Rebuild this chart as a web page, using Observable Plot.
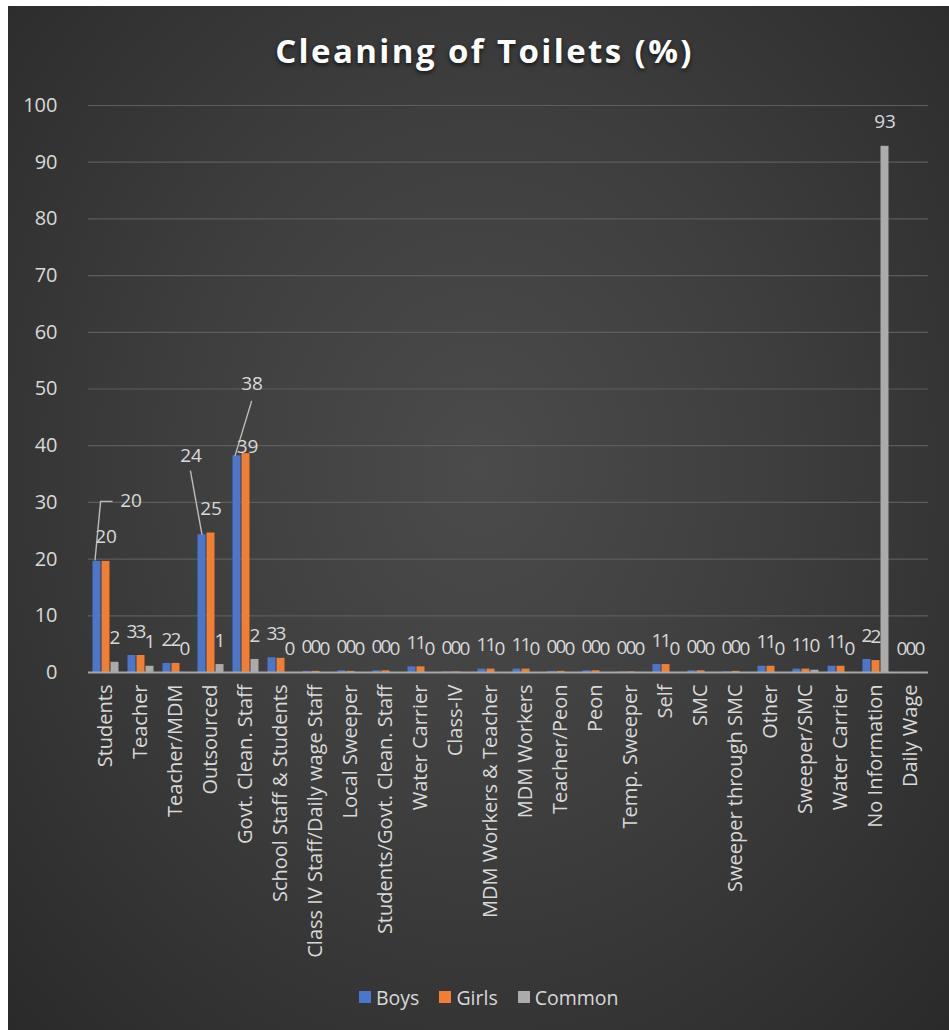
<!DOCTYPE html>
<html>
<head>
<meta charset="utf-8">
<script src="https://cdn.jsdelivr.net/npm/d3@7"></script>
<script src="https://cdn.jsdelivr.net/npm/@observablehq/plot@0.6"></script>
<style>
  body { margin: 0; background: #ffffff; }
  #chart {
    position: absolute; left: 8px; top: 6px; width: 941px; height: 1024px; overflow: hidden;
    background: radial-gradient(ellipse at 50% 45%, #4b4b4b 0%, #3e3e3e 45%, #2a2a2a 100%);
    font-family: "Open Sans", sans-serif;
  }
  #title {
    position: absolute; top: 22px; left: 0; width: 941px; padding-left: 12px; box-sizing: border-box;
    text-align: center; color: #ffffff; font-weight: 700; font-size: 33px; letter-spacing: 2.4px;
    text-shadow: 0 2px 4px rgba(0,0,0,0.7);
  }
  #plot { position: absolute; left: 0; top: 0; }
  #legend {
    position: absolute; left: 351px; top: 980px; height: 22px; display: flex; align-items: center;
    color: #d9d9d9; font-size: 19.5px;
  }
  .item { display: flex; align-items: center; margin-right: 20px; }
  .sw { width: 12px; height: 12px; margin-right: 5px; }
</style>
</head>
<body>
<div id="chart">
  <div id="title">Cleaning of Toilets (%)</div>
  <div id="plot"></div>
  <div id="legend"></div>
</div>
<script>
// ---- data ----
const categories = [
  "Students", "Teacher", "Teacher/MDM", "Outsourced", "Govt. Clean. Staff",
  "School Staff & Students", "Class IV Staff/Daily wage Staff", "Local Sweeper",
  "Students/Govt. Clean. Staff", "Water Carrier", "Class-IV", "MDM Workers & Teacher",
  "MDM Workers", "Teacher/Peon", "Peon", "Temp. Sweeper", "Self", "SMC",
  "Sweeper through SMC", "Other", "Sweeper/SMC", "Water Carrier", "No Information", "Daily Wage"
];
const boys   = [19.6, 3.0, 1.6, 24.3, 38.2, 2.6, 0.2, 0.3, 0.3, 1.0, 0.1, 0.6, 0.6, 0.2, 0.3, 0.1, 1.4, 0.3, 0.1, 1.1, 0.6, 1.1, 2.3, 0.0];
const girls  = [19.6, 3.0, 1.6, 24.6, 38.6, 2.5, 0.2, 0.2, 0.3, 1.0, 0.1, 0.6, 0.6, 0.2, 0.3, 0.1, 1.4, 0.3, 0.2, 1.1, 0.6, 1.1, 2.1, 0.0];
const common = [1.8, 1.1, 0.0, 1.4, 2.3, 0.0, 0.0, 0.0, 0.0, 0.0, 0.0, 0.0, 0.0, 0.0, 0.0, 0.0, 0.0, 0.0, 0.0, 0.0, 0.4, 0.0, 92.8, 0.0];
const seriesNames = ["Boys", "Girls", "Common"];
const yTicks = [0, 10, 20, 30, 40, 50, 60, 70, 80, 90, 100];

// ---- style ----
const seriesColors = ["#4a77cc", "#f07e33", "#ababab"];
const textColor = "#d9d9d9";
// data labels that were dragged away from their bar (pixel offsets from bar top), with leader lines
const labelNudges = [
  {cat: 0, series: "Boys", dx: 34, dy: -60, leader: [[-2, -1], [3.6, -60], [15.6, -60]]},
  {cat: 3, series: "Boys", dx: -11, dy: -79, leader: [[0, 0], [-11.6, -64]]},
  {cat: 4, series: "Boys", dx: 15, dy: -72, leader: [[-2, 0], [14.7, -55]]},
  {cat: 4, series: "Girls", dx: 1.5, dy: -7, leader: null}
];

const seriesValues = [boys, girls, common];
const rows = categories.flatMap((c, i) =>
  seriesNames.map((s, k) => ({cat: i, series: s, value: seriesValues[k][i]})));
const fmt = d3.format(".0f");
const isNudged = d => labelNudges.some(n => n.cat === d.cat && n.series === d.series);

const nudgeMarks = labelNudges.flatMap(n => {
  const sel = rows.filter(d => d.cat === n.cat && d.series === n.series);
  const m = [Plot.text(sel, {fx: "cat", x: "series", y: "value", text: d => fmt(d.value),
    dx: n.dx, dy: n.dy, fill: textColor, fontSize: 19})];
  if (n.leader) {
    const pts = n.leader;
    m.push(Plot.dot(sel, {fx: "cat", x: "series", y: "value", r: 4, fill: "none",
      stroke: "#bdbdbd", strokeWidth: 1.4,
      symbol: {draw(ctx) { pts.forEach((p, j) => j ? ctx.lineTo(p[0], p[1]) : ctx.moveTo(p[0], p[1])); }}}));
  }
  return m;
});

const chart = Plot.plot({
  width: 941,
  height: 975,
  marginTop: 99,
  marginBottom: 309,
  marginLeft: 72,
  marginRight: 13,
  style: {background: "transparent", color: textColor, fontFamily: "Open Sans, sans-serif", fontSize: "20px"},
  fx: {domain: d3.range(categories.length), padding: 0, label: null},
  x: {domain: seriesNames, paddingInner: 0, paddingOuter: 0.41, axis: null},
  y: {domain: [0, 100], label: null},
  color: {domain: seriesNames, range: seriesColors},
  marks: [
    Plot.gridY(yTicks, {stroke: "#5d5d5d", strokeOpacity: 1, strokeWidth: 1.2}),
    Plot.axisY(yTicks, {tickSize: 0, tickPadding: 31, fontSize: 20, label: null}),
    Plot.axisFx({anchor: "bottom", tickRotate: -90, tickSize: 0, tickPadding: 12, fontSize: 20,
      tickFormat: i => categories[i], label: null}),
    Plot.barY(rows, {fx: "cat", x: "series", y: "value", fill: "series", insetLeft: 0.5, insetRight: 0.5}),
    Plot.ruleY([0], {stroke: "#a6a6a6", strokeWidth: 2}),
    Plot.text(rows.filter(d => !isNudged(d)), {fx: "cat", x: "series", y: "value",
      text: d => fmt(d.value), dy: -24, fill: textColor, fontSize: 19}),
    ...nudgeMarks
  ]
});
document.getElementById("plot").appendChild(chart);

const legend = document.getElementById("legend");
seriesNames.forEach((s, k) => {
  const it = document.createElement("div");
  it.className = "item";
  it.innerHTML = `<div class="sw" style="background:${seriesColors[k]}"></div><span>${s}</span>`;
  legend.appendChild(it);
});
</script>
</body>
</html>
